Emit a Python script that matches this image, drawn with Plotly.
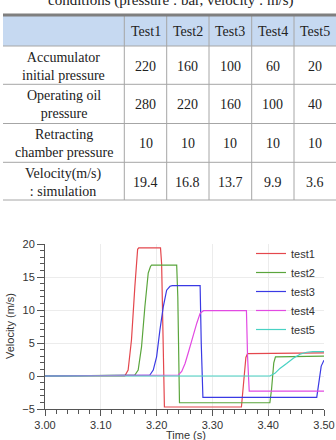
import plotly.graph_objects as go

# ---------------- table data ----------------
title_text = "conditions (pressure : bar, velocity : m/s)"
tests = ["Test1", "Test2", "Test3", "Test4", "Test5"]
row_labels = ["Accumulator<br>initial pressure", "Operating oil<br>pressure",
              "Retracting<br>chamber pressure", "Velocity(m/s)<br>: simulation"]
accumulator_pressure = [220, 160, 100, 60, 20]
operating_pressure = [280, 220, 160, 100, 40]
retracting_pressure = [10, 10, 10, 10, 10]
velocity_sim = [19.4, 16.8, 13.7, 9.9, 3.6]

# ---------------- chart data ----------------
series_names = ["test1", "test2", "test3", "test4", "test5"]
t1 = [3.00, 3.143, 3.149, 3.155, 3.161, 3.166, 3.168, 3.207, 3.209, 3.214, 3.352, 3.356, 3.360, 3.363, 3.50]
v1 = [0, 0, 0.9, 5.5, 13.5, 19.2, 19.4, 19.4, 17.0, -4.7, -4.7, -1.0, 2.8, 3.4, 3.5]
t2 = [3.00, 3.161, 3.167, 3.173, 3.179, 3.185, 3.189, 3.191, 3.236, 3.238, 3.241, 3.403, 3.406, 3.410, 3.413, 3.50]
v2 = [0, 0.15, 0.9, 4.4, 10.5, 15.6, 16.6, 16.8, 16.8, 12.0, -4.05, -4.05, -2.0, 2.0, 2.9, 3.0]
t3 = [3.00, 3.188, 3.194, 3.200, 3.206, 3.212, 3.218, 3.224, 3.228, 3.278, 3.280, 3.283, 3.487, 3.491, 3.495, 3.50]
v3 = [0, 0.15, 0.9, 2.9, 7.0, 10.5, 13.0, 13.6, 13.7, 13.7, 5.0, -3.25, -3.25, -1.0, 1.5, 2.4]
t4 = [3.00, 3.239, 3.245, 3.251, 3.257, 3.263, 3.272, 3.278, 3.284, 3.288, 3.361, 3.363, 3.366, 3.50]
v4 = [0, 0.15, 0.7, 1.9, 3.6, 5.45, 8.0, 9.5, 9.9, 9.9, 9.9, 3.0, -2.3, -2.3]
t5 = [3.00, 3.403, 3.412, 3.421, 3.433, 3.445, 3.457, 3.469, 3.480, 3.50]
v5 = [0, 0, 0.4, 1.15, 1.9, 2.7, 3.3, 3.6, 3.7, 3.7]
x_ticks = [3.00, 3.10, 3.20, 3.30, 3.40, 3.50]
y_ticks = [-5, 0, 5, 10, 15, 20]

colors = ["#e4474d", "#5aa53c", "#3a3ae4", "#e24ae2", "#48d2c4"]
W, H = 336, 440
serif = "Liberation Serif, Times New Roman, serif"
sans = "Liberation Sans, Arial, sans-serif"


def px(x):
    return x / W


def py(y):
    return (H - y) / H


fig = go.Figure()

# ---------------- lines ----------------
for name, t, v, c in zip(series_names, [t1, t2, t3, t4, t5], [v1, v2, v3, v4, v5], colors):
    fig.add_trace(go.Scatter(x=t, y=v, mode="lines", name=name,
                             line=dict(color=c, width=1.2)))

# ---------------- table (layout geometry) ----------------
tbl_left, tbl_right = 3, 336
col_edges = [tbl_left, 124.3, 166.7, 209, 251.7, 294, tbl_right]
row_edges = [15, 46, 84.3, 123.5, 162.3, 200]
line_col = "#a6a6a6"

shapes = []
annotations = []
# header fill
shapes.append(dict(type="rect", xref="paper", yref="paper", x0=px(tbl_left), x1=px(tbl_right),
                   y0=py(row_edges[1]), y1=py(row_edges[0]), fillcolor="#c6d9f1",
                   line=dict(width=0), layer="below"))
# horizontal lines
for ry in row_edges[1:]:
    shapes.append(dict(type="line", xref="paper", yref="paper", x0=px(tbl_left), x1=px(tbl_right),
                       y0=py(ry), y1=py(ry), line=dict(color=line_col, width=1)))
# vertical lines
for cx in col_edges[1:-1]:
    shapes.append(dict(type="line", xref="paper", yref="paper", x0=px(cx), x1=px(cx),
                       y0=py(row_edges[-1]), y1=py(row_edges[0]), line=dict(color=line_col, width=1)))
# thick top rule
shapes.append(dict(type="line", xref="paper", yref="paper", x0=px(tbl_left), x1=px(tbl_right),
                   y0=py(row_edges[0]), y1=py(row_edges[0]), line=dict(color="#7f7f7f", width=3)))

table_rows = [[""] + tests] + [
    [lab] + [str(v) for v in vals]
    for lab, vals in zip(row_labels, [accumulator_pressure, operating_pressure,
                                      retracting_pressure, velocity_sim])
]
for r, row in enumerate(table_rows):
    yc = (row_edges[r] + row_edges[r + 1]) / 2
    for c, txt in enumerate(row):
        if not txt:
            continue
        xc = (col_edges[c] + col_edges[c + 1]) / 2
        annotations.append(dict(text=txt, xref="paper", yref="paper", x=px(xc), y=py(yc + 1),
                                xanchor="center", yanchor="middle", showarrow=False, align="center",
                                font=dict(family=serif, size=14, color="#222")))

annotations += [
    dict(text=title_text, xref="paper", yref="paper", x=px(171), y=py(11.5),
         xanchor="center", yanchor="bottom", showarrow=False,
         font=dict(family=serif, size=15, color="#222")),
    dict(text="Time (s)", xref="paper", yref="paper", x=px(186), y=py(435),
         xanchor="center", yanchor="middle", showarrow=False,
         font=dict(family=sans, size=11, color="#333")),
    dict(text="Velocity (m/s)", xref="paper", yref="paper", x=px(10), y=py(326),
         xanchor="center", yanchor="middle", showarrow=False, textangle=-90,
         font=dict(family=sans, size=11, color="#333")),
]

fig.update_layout(
    width=W, height=H,
    margin=dict(l=0, r=0, t=0, b=0, autoexpand=False),
    paper_bgcolor="white", plot_bgcolor="white",
    showlegend=True,
    legend=dict(x=px(251), y=py(239), xanchor="left", yanchor="top",
                bgcolor="rgba(255,255,255,0)", font=dict(family=sans, size=11, color="#333"),
                tracegroupgap=0),
    xaxis=dict(domain=[px(45), px(324)], range=[3.0, 3.5], tickvals=x_ticks, automargin=False,
               tickformat=".2f", showgrid=True, gridcolor="#ececec", gridwidth=1,
               zeroline=False, showline=True, linecolor="#555", linewidth=1,
               ticks="outside", ticklen=6, tickcolor="#555",
               minor=dict(dtick=0.02, ticks="outside", ticklen=4, tickcolor="#555", showgrid=False),
               tickfont=dict(family=sans, size=11, color="#333")),
    yaxis=dict(domain=[py(409), py(244)], range=[-5, 20], tickvals=y_ticks, automargin=False,
               showgrid=True, gridcolor="#ececec", gridwidth=1,
               zeroline=False, showline=True, linecolor="#555", linewidth=1,
               ticks="outside", ticklen=7, tickcolor="#555",
               minor=dict(dtick=1, ticks="outside", ticklen=4, tickcolor="#555", showgrid=False),
               tickfont=dict(family=sans, size=11, color="#333")),
    annotations=annotations,
    shapes=shapes,
)

fig.write_html("out.html")
